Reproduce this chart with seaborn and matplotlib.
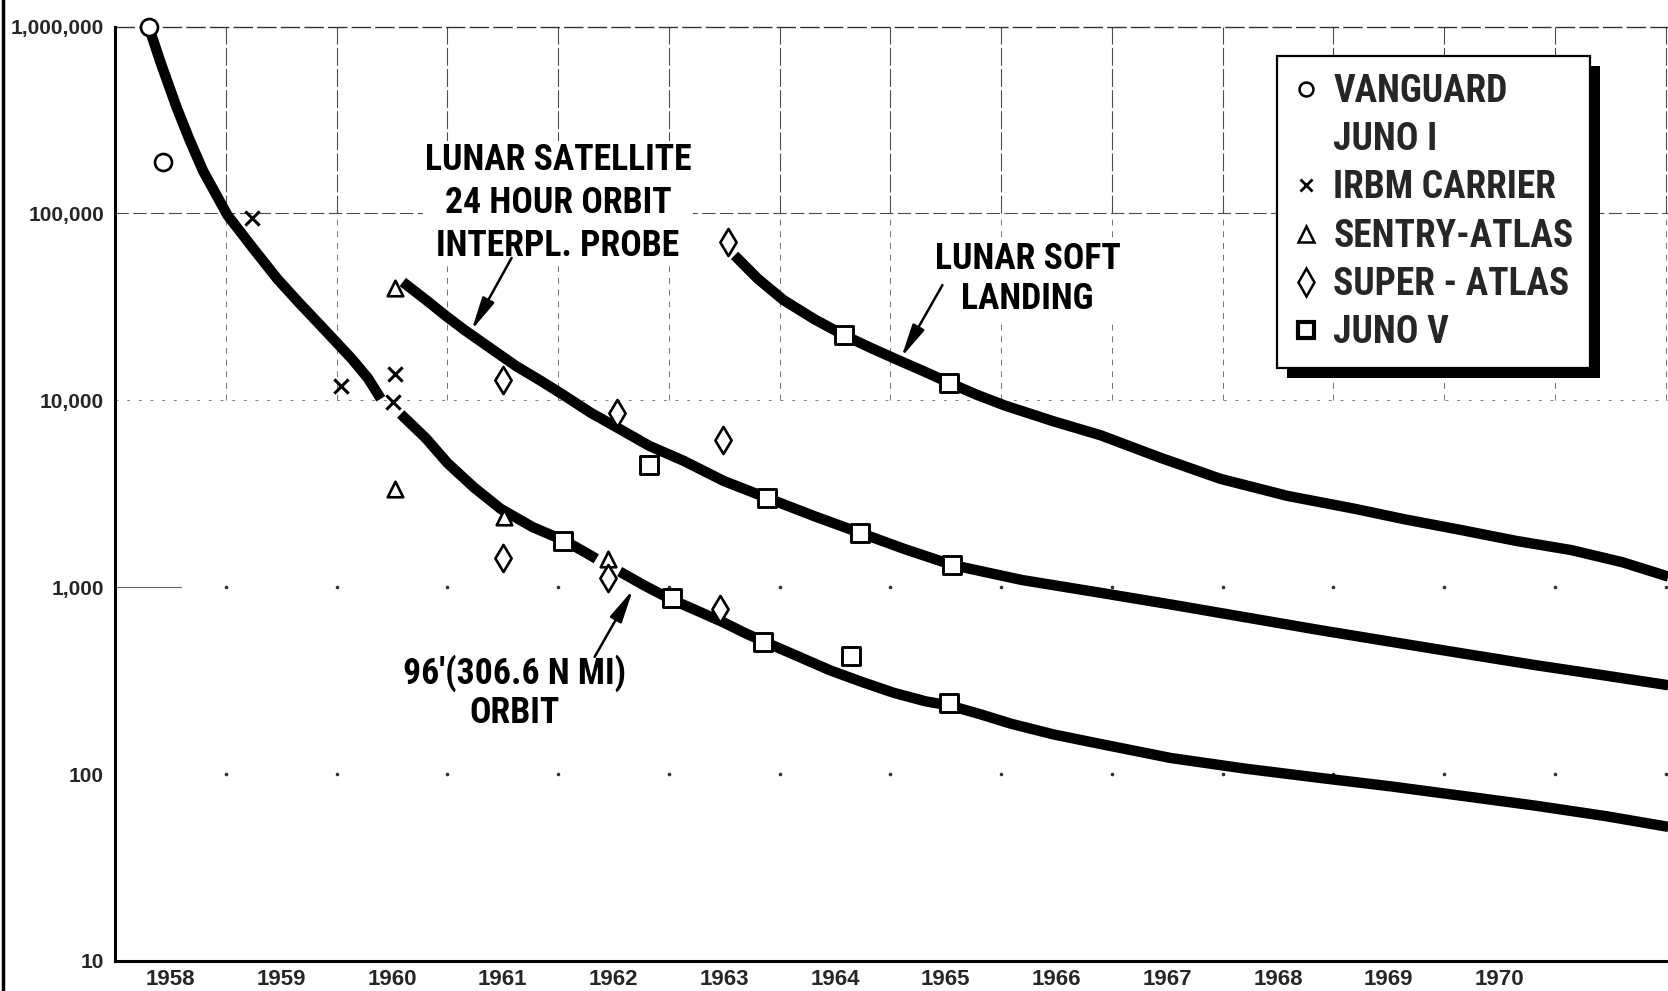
import numpy as np
import pandas as pd
import matplotlib
matplotlib.use("Agg")
import matplotlib.pyplot as plt
import seaborn as sns
from matplotlib.lines import Line2D
from matplotlib.patches import Rectangle
from matplotlib import font_manager
from matplotlib.font_manager import FontProperties

# ---------------- data ----------------
years = list(range(1958, 1971))
year_labels = [str(y) for y in years]
y_ticks = [10, 100, 1000, 10000, 100000, 1000000]
y_tick_labels = ["10", "100", "1,000", "10,000", "100,000", "1,000,000"]

# 96' (306.6 N MI) orbit curve (drawn in three pieces, as in the original)
orbit_a_x = [1958.323, 1958.409, 1958.553, 1958.668, 1958.793, 1959.014, 1959.244,
             1959.465, 1959.657, 1959.849, 1959.993, 1960.137, 1960.281, 1960.400]
orbit_a_y = [925000, 649000, 374000, 252000, 170000, 98200, 65400,
             44700, 33500, 25400, 20600, 16700, 13200, 10200]
orbit_b_x = [1960.579, 1960.809, 1961.001, 1961.241, 1961.481, 1961.769, 1962.057,
             1962.230, 1962.345]
orbit_b_y = [8450, 6250, 4620, 3420, 2630, 2100, 1775, 1556, 1420]
orbit_c_x = [1962.556, 1962.777, 1963.017, 1963.257, 1963.497, 1963.689, 1963.881,
             1964.169, 1964.457, 1964.745, 1965.033, 1965.321, 1965.533, 1965.801,
             1966.090, 1966.474, 1966.896, 1967.530, 1968.202, 1968.874, 1969.517,
             1970.170, 1970.823, 1971.466, 1972.023]
orbit_c_y = [1213, 1023, 863, 748, 647, 568, 505, 426, 359, 311, 272, 245, 233,
             210, 186, 163, 145, 122, 107, 95.5, 86, 76.4, 67.8, 59.5, 52.2]

# Lunar satellite / 24 hour orbit / interplanetary probe curve
lunar_sat_x = [1960.598, 1960.809, 1961.001, 1961.155, 1961.385, 1961.625, 1961.846,
               1962.057, 1962.297, 1962.537, 1962.825, 1963.133, 1963.497, 1963.891,
               1964.313, 1964.736, 1965.129, 1965.561, 1966.185, 1966.896, 1967.530,
               1968.202, 1968.874, 1969.517, 1970.170, 1970.823, 1971.466, 1972.023]
lunar_sat_y = [43000, 34400, 27900, 23800, 19100, 15200, 12700, 10600, 8570, 7130,
               5700, 4750, 3700, 3000, 2400, 1945, 1600, 1315, 1094, 934, 809, 691,
               590, 511, 442, 383, 336, 299]

# Lunar soft landing curve
soft_land_x = [1963.593, 1963.804, 1964.035, 1964.313, 1964.582, 1964.822, 1965.062,
               1965.302, 1965.533, 1965.782, 1966.032, 1966.474, 1966.896, 1967.434,
               1967.981, 1968.586, 1969.191, 1969.642, 1970.160, 1970.650, 1971.149,
               1971.610, 1972.023]
soft_land_y = [59700, 44700, 34400, 27200, 22300, 19100, 16500, 14300, 12400, 10700,
               9390, 7720, 6510, 4940, 3800, 3080, 2630, 2310, 2020, 1770, 1580,
               1360, 1140]

# vehicle points
vanguard_x = [1958.31, 1958.43]
vanguard_y = [1000000, 189000]
irbm_x = [1959.24, 1960.04, 1960.53, 1960.51]
irbm_y = [94400, 11900, 13900, 9800]
sentry_x = [1960.53, 1960.53, 1961.51, 1962.45]
sentry_y = [39700, 3370, 2370, 1420]
super_x = [1961.50, 1961.50, 1962.53, 1962.45, 1963.49, 1963.46, 1963.53]
super_y = [12900, 1440, 8570, 1120, 6100, 767, 70800]
juno5_x = [1962.04, 1963.03, 1963.85, 1965.53, 1962.82, 1964.64,
           1963.89, 1964.73, 1965.56, 1964.58, 1965.53]
juno5_y = [1770, 875, 510, 239, 4500, 431, 3000, 1950, 1310, 22300, 12400]

legend_labels = ["VANGUARD", "JUNO I", "IRBM CARRIER", "SENTRY-ATLAS",
                 "SUPER - ATLAS", "JUNO V"]

label_lunar_sat = "LUNAR SATELLITE\n24 HOUR ORBIT\nINTERPL. PROBE"
label_orbit = "96'(306.6 N MI)\nORBIT"
label_soft = "LUNAR SOFT\nLANDING"

# ---------------- style ----------------
sns.set_theme(style="white")
fl = font_manager.fontManager.ttflist
names = {f.name for f in fl}
SANS = "Liberation Sans" if "Liberation Sans" in names else "DejaVu Sans"


def wnum(w):
    if isinstance(w, str):
        return font_manager.weight_dict.get(w, 400)
    return w


pref = ["Liberation Sans Narrow", "Roboto Condensed", "Open Sans Condensed",
        "Noto Sans Condensed", "Noto Sans", "Open Sans", "Roboto",
        "DejaVu Sans Condensed", "DejaVu Sans"]
best = None
for f in fl:
    narrowish = ("Narrow" in f.name or "Condensed" in f.name or
                 str(f.stretch) in ("condensed", "semi-condensed",
                                    "extra-condensed", "ultra-condensed"))
    if not narrowish or wnum(f.weight) < 600:
        continue
    rank = pref.index(f.name) if f.name in pref else len(pref)
    if best is None or rank < best[0]:
        best = (rank, f.name, str(f.stretch))
if best is not None:
    NFAM, NSTRETCH = best[1], best[2]
else:
    NFAM = "Roboto" if "Roboto" in names else SANS
    NSTRETCH = "normal"

plt.rcParams["font.family"] = [SANS, "DejaVu Sans"]

W, H = 1668, 991
fig = plt.figure(figsize=(W / 100, H / 100), dpi=100)
fig.patch.set_facecolor("white")
renderer = fig.canvas.get_renderer()


def fit_size(text, target_px, max_size):
    t = fig.text(0, 0, text, fontproperties=FontProperties(
        family=[NFAM, "DejaVu Sans"], weight="bold", stretch=NSTRETCH,
        size=max_size))
    w = t.get_window_extent(renderer=renderer).width
    t.remove()
    return min(max_size, max_size * target_px / w)


ann_size = fit_size("LUNAR SATELLITE", 268, 26)
leg_size = fit_size("SENTRY-ATLAS", 250, 27)

ax_left, ax_bottom, ax_top = 115, 961, 26.6
ax = fig.add_axes([ax_left / W, (H - ax_bottom) / H, 1 - ax_left / W,
                   (ax_bottom - ax_top) / H])
ax.patch.set_visible(False)
ax.set_yscale("log")
ax.set_ylim(10, 1e6)
ax.set_xlim(1958, 1972.02)

# grid: dashed in the upper band, sparse dots below
for yr in range(1959, 1973):
    ax.axvline(yr, ymin=0.8, ymax=1.0, color="0.3", lw=0.8,
               ls=(0, (16, 3)), zorder=1)
    ax.axvline(yr, ymin=0.6, ymax=0.8, color="0.45", lw=0.7,
               ls=(0, (6, 6)), zorder=1)
ax.axhline(1e5, color="0.3", lw=0.8, ls=(0, (12, 4)), zorder=1)
ax.axhline(1e4, color="0.5", lw=0.7, ls=(0, (3, 9)), zorder=1)
ax.axhline(1e6, color="0.2", lw=1.0, ls=(0, (14, 3)), zorder=1, clip_on=False)
gx, gy = np.meshgrid(np.arange(1959, 1973), [100, 1000])
ax.plot(gx.ravel(), gy.ravel(), ls="none", marker="o", ms=1.6, color="0.2",
        zorder=1)
ax.plot([1958, 1958.6], [1000, 1000], color="0.4", lw=0.8, zorder=1)

# curves
curve_kw = dict(color="black", linewidth=7.5, estimator=None, sort=False,
                legend=False, solid_capstyle="butt", solid_joinstyle="round",
                zorder=3, ax=ax)
for xs, ys in [(orbit_a_x, orbit_a_y), (orbit_b_x, orbit_b_y),
               (orbit_c_x, orbit_c_y), (lunar_sat_x, lunar_sat_y),
               (soft_land_x, soft_land_y)]:
    sns.lineplot(x=xs, y=ys, **curve_kw)

# markers
pt_kw = dict(ax=ax, zorder=5, clip_on=False, legend=False)
sns.scatterplot(x=vanguard_x, y=vanguard_y, marker="o", s=150, color="white",
                edgecolor="black", linewidth=1.9, **pt_kw)
sns.scatterplot(x=irbm_x, y=irbm_y, marker="x", s=105, color="black",
                linewidth=2.2, **pt_kw)
sns.scatterplot(x=sentry_x, y=sentry_y, marker="^", s=125, color="white",
                edgecolor="black", linewidth=1.9, **pt_kw)
sns.scatterplot(x=super_x, y=super_y, marker="d", s=190, color="white",
                edgecolor="black", linewidth=1.9, **pt_kw)
sns.scatterplot(x=juno5_x, y=juno5_y, marker="s", s=150, color="white",
                edgecolor="black", linewidth=2.1, **pt_kw)

# axes, ticks
ax.set_xticks([y + 0.5 for y in years])
ax.set_xticklabels(year_labels)
ax.set_yticks(y_ticks)
ax.set_yticklabels(y_tick_labels)
ax.yaxis.set_minor_locator(matplotlib.ticker.NullLocator())
ax.tick_params(axis="both", length=0)
ax.tick_params(axis="x", pad=6)
ax.tick_params(axis="y", pad=8)
for lab in ax.get_xticklabels():
    lab.set_fontfamily([SANS, "DejaVu Sans"])
    lab.set_fontweight("bold")
    lab.set_fontsize(16)
for lab in ax.get_yticklabels():
    lab.set_fontfamily([SANS, "DejaVu Sans"])
    lab.set_fontweight("bold")
    lab.set_fontsize(15)
for side in ["top", "right"]:
    ax.spines[side].set_visible(False)
for side in ["left", "bottom"]:
    ax.spines[side].set_color("black")
    ax.spines[side].set_linewidth(2.2)
ax.set_xlabel("")
ax.set_ylabel("")

# annotations
txt_fp = FontProperties(family=[NFAM, "DejaVu Sans"], weight="bold",
                        stretch=NSTRETCH, size=ann_size)
txt_kw = dict(fontproperties=txt_fp, color="black", ha="center", va="center",
              multialignment="center")
arrow = dict(arrowstyle="-|>,head_length=1.0,head_width=0.2", color="black",
             lw=1.8, shrinkA=0, shrinkB=0, mutation_scale=20)

ax.text(1962.0, 10 ** 5.056, label_lunar_sat, linespacing=1.25, zorder=4,
        bbox=dict(facecolor="white", edgecolor="none", pad=1), **txt_kw)
ax.annotate("", xy=(1961.22, 23800), xytext=(1961.58, 57800),
            arrowprops=arrow, zorder=4)
ax.text(1961.61, 272, label_orbit, linespacing=1.12, zorder=4, **txt_kw)
ax.annotate("", xy=(1962.675, 968), xytext=(1962.33, 424),
            arrowprops=arrow, zorder=4)
ax.text(1966.24, 44400, label_soft, linespacing=1.14, zorder=4,
        bbox=dict(facecolor="white", edgecolor="none", pad=1), **txt_kw)
ax.annotate("", xy=(1965.10, 17060), xytext=(1965.47, 41400),
            arrowprops=arrow, zorder=4)

# legend
handles = [
    Line2D([], [], ls="none", marker="o", ms=10, mfc="white", mec="black", mew=1.8),
    Line2D([], [], ls="none", marker="None"),
    Line2D([], [], ls="none", marker="x", ms=9, color="black", mew=2.0),
    Line2D([], [], ls="none", marker="^", ms=11, mfc="white", mec="black", mew=1.8),
    Line2D([], [], ls="none", marker="d", ms=14, mfc="white", mec="black", mew=1.8),
    Line2D([], [], ls="none", marker="s", ms=12, mfc="white", mec="black", mew=3.0),
]
leg = ax.legend(handles, legend_labels, loc="upper left",
                bbox_to_anchor=(1277 / W, 1 - 56 / H),
                bbox_transform=fig.transFigure, frameon=True, fancybox=False,
                framealpha=1, edgecolor="black", borderpad=0.45,
                labelspacing=0.3, handlelength=0.65, handletextpad=0.4,
                borderaxespad=0,
                prop=FontProperties(family=[NFAM, "DejaVu Sans"], weight="bold",
                                    stretch=NSTRETCH, size=leg_size))
leg.get_frame().set_linewidth(1.6)
leg.set_zorder(10)

fig.canvas.draw()
bb = leg.get_window_extent()
ax.add_patch(Rectangle(((bb.x0 + 10) / W, (bb.y0 - 10) / H), bb.width / W,
                       bb.height / H, transform=fig.transFigure,
                       facecolor="black", edgecolor="none", zorder=9.5,
                       clip_on=False))

# page edge line on the far left
fig.add_artist(Line2D([3 / W, 3 / W], [0, 1], transform=fig.transFigure,
                      color="black", lw=2.5))

fig.savefig("out.png", dpi=100, facecolor="white")
